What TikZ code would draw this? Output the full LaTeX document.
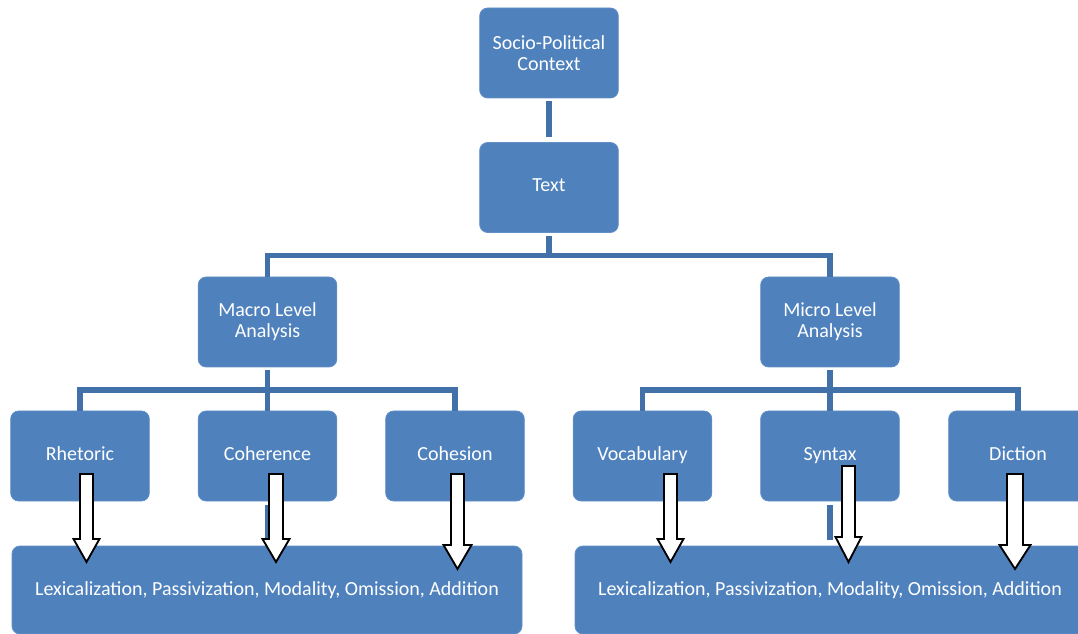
\documentclass[tikz,border=0pt]{standalone}
\usepackage{fontspec}
\setmainfont{Carlito}
\definecolor{boxfill}{RGB}{79,129,189}
\definecolor{boxline}{RGB}{98,144,199}
\definecolor{linkblue}{RGB}{66,112,168}
% block arrow: x, top, head start, tip, half shaft, half head
\newcommand{\blkarrow}[6]{%
  \draw[fill=white, draw=black, line width=1.4pt, line join=miter]
    ({#1-#5},#2) -- ({#1+#5},#2) -- ({#1+#5},#3) -- ({#1+#6},#3) --
    (#1,#4) -- ({#1-#6},#3) -- ({#1-#5},#3) -- cycle;}
\begin{document}
\begin{tikzpicture}[x=0.75pt, y=-0.75pt,
    box/.style={rectangle, rounded corners=6pt, fill=boxfill, draw=boxline, line width=0.6pt,
      text=white, align=center, minimum width=104pt, minimum height=67.5pt, inner sep=2pt,
      font=\fontsize{15}{16}\selectfont},
    leafbox/.style={box, text height=1.3ex, text depth=0pt},
    widebox/.style={box, minimum width=382.5pt, minimum height=66pt},
    link/.style={draw=linkblue, line width=3.8pt}]
    \clip (0,0) rectangle (1078,634);

    % top of the tree
    \node[box] (socio) at (549,53) {Socio-Political\\Context};
    \node[leafbox] (text) at (549,187.5) {Text};
    \node[box] (macro) at (267.5,322) {Macro Level\\Analysis};
    \node[box] (micro) at (830,322) {Micro Level\\Analysis};

    % macro level
    \node[leafbox] (rhet) at (80,456) {Rhetoric};
    \node[leafbox] (coher) at (267.5,456) {Coherence};
    \node[leafbox] (cohes) at (455,456) {Cohesion};

    % micro level
    \node[leafbox] (vocab) at (642.5,456) {Vocabulary};
    \node[leafbox] (synt) at (830,456) {Syntax};
    \node[leafbox] (dict) at (1018,456) {Diction};

    % bottom strategies
    \node[widebox] (lexl) at (267,590) {Lexicalization, Passivization, Modality, Omission, Addition};
    \node[widebox] (lexr) at (830,590) {Lexicalization, Passivization, Modality, Omission, Addition};

    % connectors
    \coordinate (bartop) at (549,255.5);
    \coordinate (barl) at (267.5,390);
    \coordinate (barr) at (830,390);
    \draw[link, shorten <=2pt, shorten >=4pt] (socio.south) -- (text.north);
    \draw[link, shorten <=2pt] (text.south) -- (bartop);
    \draw[link] (macro.north) |- (bartop) -| (micro.north);
    \draw[link, shorten <=2pt] (macro.south) -- (barl);
    \draw[link] (rhet.north) |- (barl) -| (cohes.north);
    \draw[link] (coher.north) -- (barl);
    \draw[link, shorten <=2pt] (micro.south) -- (barr);
    \draw[link] (vocab.north) |- (barr) -| (dict.north);
    \draw[link] (synt.north) -- (barr);
    \draw[link, shorten <=3pt, shorten >=4pt] (coher.south) -- (coher.south |- lexl.north);
    \draw[link, shorten <=3pt, shorten >=4pt] (synt.south) -- (synt.south |- lexr.north);

    % block arrows
    \blkarrow{86.5}{474}{539}{562}{6.5}{13}
    \blkarrow{276}{474}{539}{562}{7}{13.5}
    \blkarrow{457.5}{474}{545}{569}{6.5}{14}
    \blkarrow{670.5}{474}{539}{562}{6.5}{13}
    \blkarrow{848.5}{466}{537}{562}{6.5}{13}
    \blkarrow{1015}{474}{545}{569}{8}{15.5}
\end{tikzpicture}
\end{document}
